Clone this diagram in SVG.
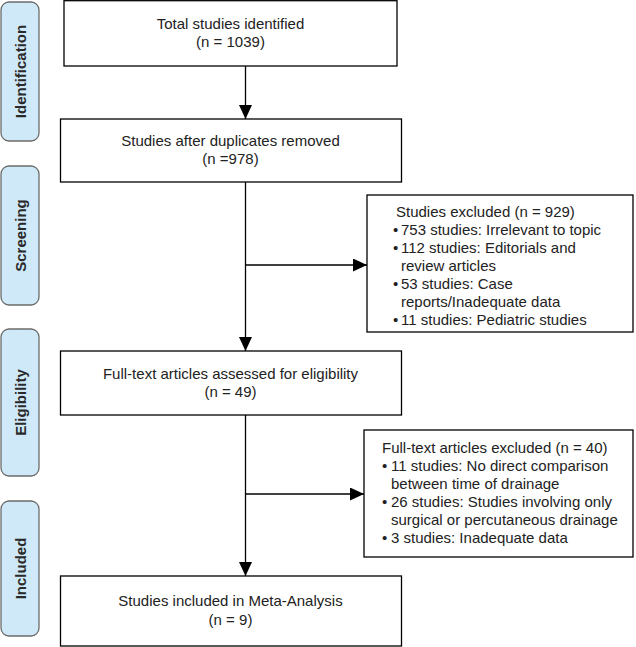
<svg xmlns="http://www.w3.org/2000/svg" width="636" height="647" viewBox="0 0 636 647">
<defs>
<marker id="ah" markerUnits="userSpaceOnUse" markerWidth="14" markerHeight="13" refX="14" refY="6.5" orient="auto">
<path d="M0,0 L14,6.5 L0,13 z" fill="#000"/>
</marker>
<style>
.box{fill:#fff;stroke:#000;stroke-width:1.3}
.side{fill:#cfe9f9;stroke:#6b6b6b;stroke-width:1.3}
.t{font-family:"Liberation Sans",Arial,sans-serif;font-size:15px;fill:#222}
.c{text-anchor:middle}
.s{font-family:"Liberation Sans",Arial,sans-serif;font-size:15px;font-weight:bold;fill:#2a2a2a;text-anchor:middle}
.ln{stroke:#000;stroke-width:1.3;fill:none}
</style>
</defs>
<rect width="636" height="647" fill="#fff"/>
<g id="side-identification">
<rect class="side" x="1" y="2" width="38" height="139" rx="8"/>
<text class="s" transform="translate(25.5,71.5) rotate(-90)">Identification</text>
</g>
<g id="side-screening">
<rect class="side" x="1" y="166" width="38" height="139" rx="8"/>
<text class="s" transform="translate(25.5,235.5) rotate(-90)">Screening</text>
</g>
<g id="side-eligibility">
<rect class="side" x="1" y="329" width="38" height="147" rx="8"/>
<text class="s" transform="translate(25.5,402.5) rotate(-90)">Eligibility</text>
</g>
<g id="side-included">
<rect class="side" x="1" y="501" width="38" height="135" rx="8"/>
<text class="s" transform="translate(25.5,568.5) rotate(-90)">Included</text>
</g>
<g id="connectors">
<line class="ln" x1="245.5" y1="66" x2="245.5" y2="119" marker-end="url(#ah)"/>
<line class="ln" x1="245.5" y1="182" x2="245.5" y2="351" marker-end="url(#ah)"/>
<line class="ln" x1="245.5" y1="265" x2="367" y2="265" marker-end="url(#ah)"/>
<line class="ln" x1="245.5" y1="415" x2="245.5" y2="576" marker-end="url(#ah)"/>
<line class="ln" x1="245.5" y1="494" x2="364" y2="494" marker-end="url(#ah)"/>
</g>
<g id="identified">
<rect class="box" x="64" y="0.7" width="333" height="65.3"/>
<text class="t c" x="230.5" y="28.5">Total studies identified</text>
<text class="t c" x="230.5" y="47">(n = 1039)</text>
</g>
<g id="after-duplicates">
<rect class="box" x="60.5" y="119" width="341" height="63"/>
<text class="t c" x="230.5" y="145.5">Studies after duplicates removed</text>
<text class="t c" x="230.5" y="164">(n =978)</text>
</g>
<g id="screen-excluded">
<rect class="box" x="367" y="195" width="266" height="137"/>
<text class="t" x="396" y="217">Studies excluded (n = 929)</text>
<text class="t" x="393" y="235">•</text><text class="t" x="401" y="235">753 studies: Irrelevant to topic</text>
<text class="t" x="393" y="253">•</text><text class="t" x="401" y="253">112 studies: Editorials and</text>
<text class="t" x="401" y="271">review articles</text>
<text class="t" x="393" y="289">•</text><text class="t" x="401" y="289">53 studies: Case</text>
<text class="t" x="401" y="307">reports/Inadequate data</text>
<text class="t" x="393" y="325">•</text><text class="t" x="401" y="325">11 studies: Pediatric studies</text>
</g>
<g id="full-text">
<rect class="box" x="60.5" y="351" width="341" height="64"/>
<text class="t c" x="230.5" y="378.5">Full-text articles assessed for eligibility</text>
<text class="t c" x="230.5" y="397">(n = 49)</text>
</g>
<g id="fulltext-excluded">
<rect class="box" x="364" y="430" width="269" height="127"/>
<text class="t" x="382" y="453">Full-text articles excluded (n = 40)</text>
<text class="t" x="382" y="471">•</text><text class="t" x="391" y="471">11 studies: No direct comparison</text>
<text class="t" x="391" y="489">between time of drainage</text>
<text class="t" x="382" y="507">•</text><text class="t" x="391" y="507">26 studies: Studies involving only</text>
<text class="t" x="391" y="525">surgical or percutaneous drainage</text>
<text class="t" x="382" y="543">•</text><text class="t" x="391" y="543">3 studies: Inadequate data</text>
</g>
<g id="included">
<rect class="box" x="60.5" y="576" width="341" height="70"/>
<text class="t c" x="230.5" y="606">Studies included in Meta-Analysis</text>
<text class="t c" x="230.5" y="625">(n = 9)</text>
</g>
</svg>
